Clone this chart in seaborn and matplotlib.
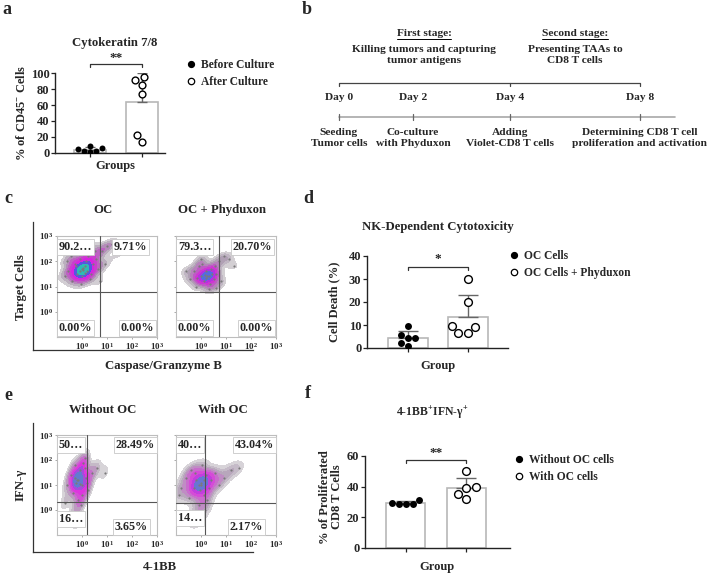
import numpy as np
import pandas as pd
import matplotlib
matplotlib.use("Agg")
import matplotlib.pyplot as plt
import seaborn as sns
from matplotlib.colors import LinearSegmentedColormap
from matplotlib.lines import Line2D

# ---------------- data ----------------
# panel a
a_groups = ["Before Culture", "After Culture"]
a_before = [2, 6, 2, 5, 9, 1]
a_after = [91, 95, 85, 74, 22, 14]
# panel d
d_groups = ["OC Cells", "OC Cells + Phyduxon"]
d_oc = [4.5, 1, 9.5, 4.5, 5.5, 2]
d_phy = [30, 20, 6.5, 9.5, 6.5, 9]
# panel f
f_groups = ["Without OC cells", "With OC cells"]
f_without = [28.5, 31.5, 29, 29.5, 28.5]
f_with = [39.5, 32, 50, 39, 35]

# panel b timeline
b_days = ["Day 0", "Day 2", "Day 4", "Day 8"]
b_events = ["Seeding\nTumor cells", "Co-culture\nwith Phyduxon",
            "Adding\nViolet-CD8 T cells",
            "Determining CD8 T cell\nproliferation and activation"]
b_stage_titles = ["First stage:", "Second stage:"]
b_stage_texts = ["Killing tumors and capturing\ntumor antigens",
                 "Presenting TAAs to\nCD8 T cells"]

# flow panels (log10 units of events)
c1_x = [-0.55, -0.4, -0.3, -0.2, -0.1, 0.0, 0.0, 0.1, 0.2, 0.25, 0.35, 0.45, 0.55, 0.65,
        -0.25, -0.05, 0.15, 0.3, 0.5, 0.8, 1.0, 1.2, -0.45, 0.05, -0.1, 0.05, 0.1,
        -0.7, 0.9, 1.5, 0.7, -0.6, 0.3]
c1_y = [1.6, 1.2, 1.9, 1.5, 2.1, 1.7, 1.4, 1.8, 1.6, 2.2, 1.5, 1.9, 2.1, 1.7,
        1.8, 1.1, 2.0, 1.3, 2.4, 2.4, 2.6, 2.7, 2.2, 1.65, 1.6, 1.75, 1.55,
        1.4, 1.9, 2.3, 1.2, 2.0, 2.6]
c2_x = [-0.45, -0.3, -0.2, -0.1, 0.0, 0.1, 0.2, 0.25, 0.3, 0.4, 0.5, 0.6, 0.7, 0.8,
        -0.15, 0.05, 0.35, 0.55, 0.9, 1.1, 0.15, 0.45, 0.2, 0.3, -0.6, 1.3, 0.0, 0.6]
c2_y = [1.3, 1.6, 1.0, 1.8, 1.4, 1.2, 1.6, 1.4, 0.9, 1.7, 1.3, 1.5, 2.0, 1.2,
        1.35, 1.9, 1.1, 1.8, 2.2, 2.1, 1.45, 1.5, 1.35, 1.4, 1.6, 1.8, 2.1, 0.95]
e1_x = [-0.6, -0.45, -0.35, -0.3, -0.2, -0.15, -0.1, 0.0, 0.05, 0.15, 0.25, 0.4, -0.25,
        -0.05, 0.1, -0.4, -0.2, 0.0, -0.3, 0.2, 0.6, -0.15, -0.1, 0.9, -0.7, 0.1]
e1_y = [1.0, 1.4, 0.7, 1.8, 1.2, 0.4, 1.6, 1.0, 1.9, 1.3, 0.8, 1.5, 1.1,
        0.2, 1.7, -0.2, -0.5, 0.6, 1.3, 1.1, 1.7, 1.2, 1.05, 1.5, 0.3, 2.1]
e2_x = [-0.8, -0.6, -0.5, -0.4, -0.3, -0.2, -0.1, 0.0, 0.05, 0.1, 0.2, 0.3, 0.4, 0.55,
        0.7, 0.9, 1.2, -0.35, -0.15, 0.15, 0.0, -0.25, 0.25, -0.05, -0.1, 0.1, 1.5, -0.9]
e2_y = [0.9, 1.3, 0.5, 1.6, 0.9, 1.2, 0.2, 1.0, 1.8, 0.6, 1.4, 0.9, 1.2, 1.5,
        1.0, 1.3, 1.6, -0.3, -0.5, 0.0, 1.1, 1.5, 0.4, 0.8, 1.0, 1.2, 1.7, 0.6]
c_titles = ["OC", "OC + Phyduxon"]
e_titles = ["Without OC", "With OC"]
c1_quads = ["90.2…", "9.71%", "0.00%", "0.00%"]
c2_quads = ["79.3…", "20.70%", "0.00%", "0.00%"]
e1_quads = ["50…", "28.49%", "16…", "3.65%"]
e2_quads = ["40…", "43.04%", "14…", "2.17%"]
c1_gate = (0.72, 0.8)
c2_gate = (0.72, 0.8)
e1_gate = (0.2, 0.32)
e2_gate = (0.16, 0.28)
flow_ticks = [1, 10, 100, 1000]
flow_ticklabels = [r"$\mathbf{10^{0}}$", r"$\mathbf{10^{1}}$",
                   r"$\mathbf{10^{2}}$", r"$\mathbf{10^{3}}$"]

# ---------------- style ----------------
sns.set_style("ticks")
plt.rcParams["font.family"] = ["Liberation Serif", "DejaVu Serif"]
plt.rcParams["font.weight"] = "bold"
plt.rcParams["axes.labelweight"] = "bold"
plt.rcParams["mathtext.fontset"] = "custom"
plt.rcParams["mathtext.rm"] = "Liberation Serif:bold"
plt.rcParams["mathtext.bf"] = "Liberation Serif:bold"
plt.rcParams["mathtext.it"] = "Liberation Serif:italic:bold"
plt.rcParams["mathtext.default"] = "bf"

W, H = 708, 574
fig = plt.figure(figsize=(W / 100, H / 100), dpi=100)


def add_ax(l, t, r, b):
    return fig.add_axes([l / W, 1 - b / H, (r - l) / W, (b - t) / H])


def ftext(x, y, s, **kw):
    kw.setdefault("ha", "center")
    kw.setdefault("va", "center")
    kw.setdefault("fontweight", "bold")
    return fig.text(x / W, 1 - y / H, s, **kw)


BAR_EDGE = "#b8b8b8"


def bar_panel(ax, names, vals1, vals2, width, capsize, msize, ylim, yticks,
              bracket_y, star, star_y, xlim):
    df = pd.DataFrame({"group": [names[0]] * len(vals1) + [names[1]] * len(vals2),
                       "value": list(vals1) + list(vals2)})
    sns.barplot(data=df, x="group", y="value", order=names, errorbar=None,
                color="white", edgecolor=BAR_EDGE, linewidth=1.2, width=width, ax=ax)
    for i, v in enumerate([vals1, vals2]):
        m, s = np.mean(v), np.std(v, ddof=1)
        ax.errorbar([i], [m], yerr=[[0], [s]], fmt="none", ecolor="#666666",
                    elinewidth=1.0, capsize=capsize, capthick=1.0, zorder=3)
    sns.swarmplot(data=df[df.group == names[0]], x="group", y="value", order=names,
                  color="black", size=msize, ax=ax, zorder=4)
    sns.swarmplot(data=df[df.group == names[1]], x="group", y="value", order=names,
                  color="white", edgecolor="black", linewidth=1.0, size=msize + 0.6,
                  ax=ax, zorder=4)
    ax.set_xlim(*xlim)
    ax.set_ylim(*ylim)
    ax.set_yticks(yticks)
    ax.set_xticks([0, 1])
    ax.set_xticklabels([])
    ax.set_xlabel("")
    ax.set_ylabel("")
    sns.despine(ax=ax)
    for sp in ["left", "bottom"]:
        ax.spines[sp].set_linewidth(1.0)
        ax.spines[sp].set_color("#222222")
    ax.tick_params(axis="both", length=3, width=0.9, color="#222222",
                   labelsize=9, pad=1)
    for lab in ax.get_yticklabels():
        lab.set_fontweight("bold")
    ax.spines["left"].set_bounds(ylim[0], ylim[1])
    tick = (ylim[1] - ylim[0]) * 0.035
    ax.plot([0, 0, 1, 1], [bracket_y - tick, bracket_y, bracket_y, bracket_y - tick],
            color="#333333", lw=0.9, clip_on=False)
    ax.text(0.5, star_y, star, ha="center", va="center", fontsize=9.5,
            fontweight="bold", clip_on=False)


def legend_for(ax, labels, x, y):
    handles = [Line2D([], [], marker="o", ls="none", markersize=4.2,
                      markerfacecolor="black", markeredgecolor="black"),
               Line2D([], [], marker="o", ls="none", markersize=4.6,
                      markerfacecolor="white", markeredgecolor="black",
                      markeredgewidth=0.9)]
    leg = ax.legend(handles, labels, loc="upper left",
                    bbox_to_anchor=(x / W, 1 - y / H), bbox_transform=fig.transFigure,
                    frameon=False, fontsize=8.3, handlelength=0.6, handletextpad=0.5,
                    borderpad=0, borderaxespad=0, labelspacing=0.4)
    for t in leg.get_texts():
        t.set_fontweight("bold")


# ---------------- panel a ----------------
ax_a = add_ax(55, 73, 165, 153)
bar_panel(ax_a, a_groups, a_before, a_after, width=0.63, capsize=3.5, msize=4.3,
          ylim=(0, 100), yticks=[0, 20, 40, 60, 80, 100], bracket_y=111,
          star="**", star_y=119, xlim=(-0.673, 1.44))
legend_for(ax_a, a_groups, 188, 59)
ftext(115, 43, "Cytokeratin 7/8", fontsize=9.2)
ftext(115, 166, "Groups", fontsize=9)
ftext(22, 113, r"% of CD45$^{-}$ Cells", fontsize=9, rotation=90)
ftext(7, 10, "a", fontsize=13)

# ---------------- panel d ----------------
ax_d = add_ax(367, 256, 508, 348)
bar_panel(ax_d, d_groups, d_oc, d_phy, width=0.67, capsize=7, msize=5.0,
          ylim=(0, 40), yticks=[0, 10, 20, 30, 40], bracket_y=35.3,
          star="*", star_y=38.6, xlim=(-0.683, 1.667))
legend_for(ax_d, d_groups, 511, 250)
ftext(438, 227, "NK-Dependent Cytotoxicity", fontsize=9.2)
ftext(438, 366, "Group", fontsize=9)
ftext(334, 302, "Cell Death (%)", fontsize=9, rotation=90)
ftext(308, 199, "d", fontsize=13)

# ---------------- panel f ----------------
ax_f = add_ax(365, 456, 510, 548)
bar_panel(ax_f, f_groups, f_without, f_with, width=0.65, capsize=7, msize=5.0,
          ylim=(0, 60), yticks=[0, 20, 40, 60], bracket_y=57.4,
          star="**", star_y=62, xlim=(-0.683, 1.733))
legend_for(ax_f, f_groups, 516, 454)
ftext(432, 413, r"4-1BB$^{+}$IFN-γ$^{+}$", fontsize=8.5)
ftext(437, 567, "Group", fontsize=9)
ftext(331, 497, "% of Proliferated\nCD8 T Cells", fontsize=9, rotation=90,
      linespacing=1.0)
ftext(308, 394, "f", fontsize=13)

# ---------------- panel b ----------------
ax_b = add_ax(290, 0, 708, 160)
ax_b.set_xlim(290, 708)
ax_b.set_ylim(160, 0)
ax_b.axis("off")
day_px = [339, 413, 510, 640]
stage_px = [424, 575]
for px, title, txt in zip(stage_px, b_stage_titles, b_stage_texts):
    t = ax_b.text(px, 34, title, ha="center", va="center", fontsize=8.2, fontweight="bold")
    ax_b.text(px, 55, txt, ha="center", va="center", fontsize=8.2, fontweight="bold",
              linespacing=1.25)
    fig.canvas.draw()
    bb = t.get_window_extent().transformed(ax_b.transData.inverted())
    ax_b.plot([bb.x0, bb.x1], [39.5, 39.5], color="black", lw=0.7)
ax_b.plot([day_px[0], day_px[0], day_px[3], day_px[3]], [86, 83, 83, 86],
          color="#444444", lw=0.9)
ax_b.plot([day_px[2], day_px[2]], [83, 86], color="#444444", lw=0.9)
ax_b.plot([day_px[0], 675], [117, 117], color="#a8a8a8", lw=1.2)
for px, d, ev in zip(day_px, b_days, b_events):
    ax_b.plot([px, px], [114, 120], color="#666666", lw=0.9)
    ax_b.text(px, 98, d, ha="center", va="center", fontsize=8.2, fontweight="bold")
    ax_b.text(px, 138, ev, ha="center", va="center", fontsize=8.2, fontweight="bold",
              linespacing=1.2)
ftext(307, 10, "b", fontsize=13)

# ---------------- flow panels ----------------
cmap_full = LinearSegmentedColormap.from_list(
    "flow1", ["#dcdcdc", "#b0a0b4", "#c24ac8", "#e020e0", "#5a50e0", "#2aa8e0", "#2ee85a"])
cmap_mid = LinearSegmentedColormap.from_list(
    "flow2", ["#dcdcdc", "#b0a0b4", "#c24ac8", "#e020e0", "#6a50e0", "#3a90e0"])
cmap_low = LinearSegmentedColormap.from_list(
    "flow3", ["#e0e0e0", "#b8a8bc", "#cc60d0", "#e030e0", "#7a60d8", "#4a98c8"])


def flow(ax, xs, ys, gate, quads, cmap, show_ylabels, q_pos, bw):
    px = [10 ** v for v in xs]
    py = [10 ** v for v in ys]
    sns.kdeplot(x=px, y=py, log_scale=True, fill=True, cmap=cmap, levels=9,
                thresh=0.12, bw_adjust=bw, ax=ax, zorder=1)
    sns.scatterplot(x=px, y=py, s=2.5, color="#7a7a7a", linewidth=0, ax=ax, zorder=2)
    ax.set_xscale("log")
    ax.set_yscale("log")
    ax.set_xlim(10 ** -1, 10 ** 3)
    ax.set_ylim(10 ** -1, 10 ** 3)
    ax.axvline(10 ** gate[0], color="#555555", lw=0.8, zorder=3)
    ax.axhline(10 ** gate[1], color="#555555", lw=0.8, zorder=3)
    ax.set_xticks(flow_ticks)
    ax.set_xticklabels(flow_ticklabels)
    ax.set_yticks(flow_ticks)
    ax.set_yticklabels(flow_ticklabels if show_ylabels else [])
    ax.minorticks_off()
    ax.tick_params(length=1.5, width=0.5, color="#888888", labelsize=6.5, pad=1.5)
    ax.set_xlabel("")
    ax.set_ylabel("")
    for sp in ax.spines.values():
        sp.set_color("#bdbdbd")
        sp.set_linewidth(0.8)
    box = dict(boxstyle="square,pad=0.15", fc="white", ec="#c8c8c8", lw=0.6)
    for (x, y, ha), s in zip(q_pos, quads):
        ax.text(x, y, s, transform=ax.transAxes, ha=ha, va="center", fontsize=8.7,
                fontweight="bold", bbox=box, zorder=5)


def frame(l, t, r, b):
    fa = add_ax(l, t, r, b)
    fa.set_facecolor("none")
    fa.set_xticks([])
    fa.set_yticks([])
    for sp in ["top", "right"]:
        fa.spines[sp].set_visible(False)
    for sp in ["left", "bottom"]:
        fa.spines[sp].set_color("#333333")
        fa.spines[sp].set_linewidth(0.9)
    fa.set_zorder(-1)


frame(33, 222, 253, 350)
frame(33, 423, 253, 552)

ax_c1 = add_ax(57, 236, 157, 337)
flow(ax_c1, c1_x, c1_y, c1_gate, c1_quads, cmap_full, True,
     [(0.02, 0.89, "left"), (0.9, 0.89, "right"), (0.02, 0.09, "left"), (0.97, 0.09, "right")],
     0.85)
ax_c2 = add_ax(176, 236, 276, 337)
flow(ax_c2, c2_x, c2_y, c2_gate, c2_quads, cmap_mid, False,
     [(0.02, 0.89, "left"), (0.96, 0.89, "right"), (0.02, 0.09, "left"), (0.97, 0.09, "right")],
     0.85)
ax_e1 = add_ax(57, 435, 157, 535)
flow(ax_e1, e1_x, e1_y, e1_gate, e1_quads, cmap_low, True,
     [(0.02, 0.9, "left"), (0.98, 0.9, "right"), (0.02, 0.16, "left"), (0.91, 0.08, "right")],
     0.8)
ax_e2 = add_ax(176, 435, 276, 535)
flow(ax_e2, e2_x, e2_y, e2_gate, e2_quads, cmap_low, False,
     [(0.02, 0.9, "left"), (0.98, 0.9, "right"), (0.02, 0.17, "left"), (0.87, 0.08, "right")],
     0.8)

for (x, s) in zip([103, 222], c_titles):
    ftext(x, 210, s, fontsize=9.2)
for (x, s) in zip([103, 223], e_titles):
    ftext(x, 410, s, fontsize=9.2)
ftext(163, 366, "Caspase/Granzyme B", fontsize=9.2)
ftext(160, 567, "4-1BB", fontsize=9.2)
ftext(21, 287, "Target Cells", fontsize=9.2, rotation=90)
ftext(21, 485, "IFN-γ", fontsize=9.2, rotation=90)
ftext(8, 198, "c", fontsize=13)
ftext(8, 395, "e", fontsize=13)

fig.savefig("out.png", dpi=100)
